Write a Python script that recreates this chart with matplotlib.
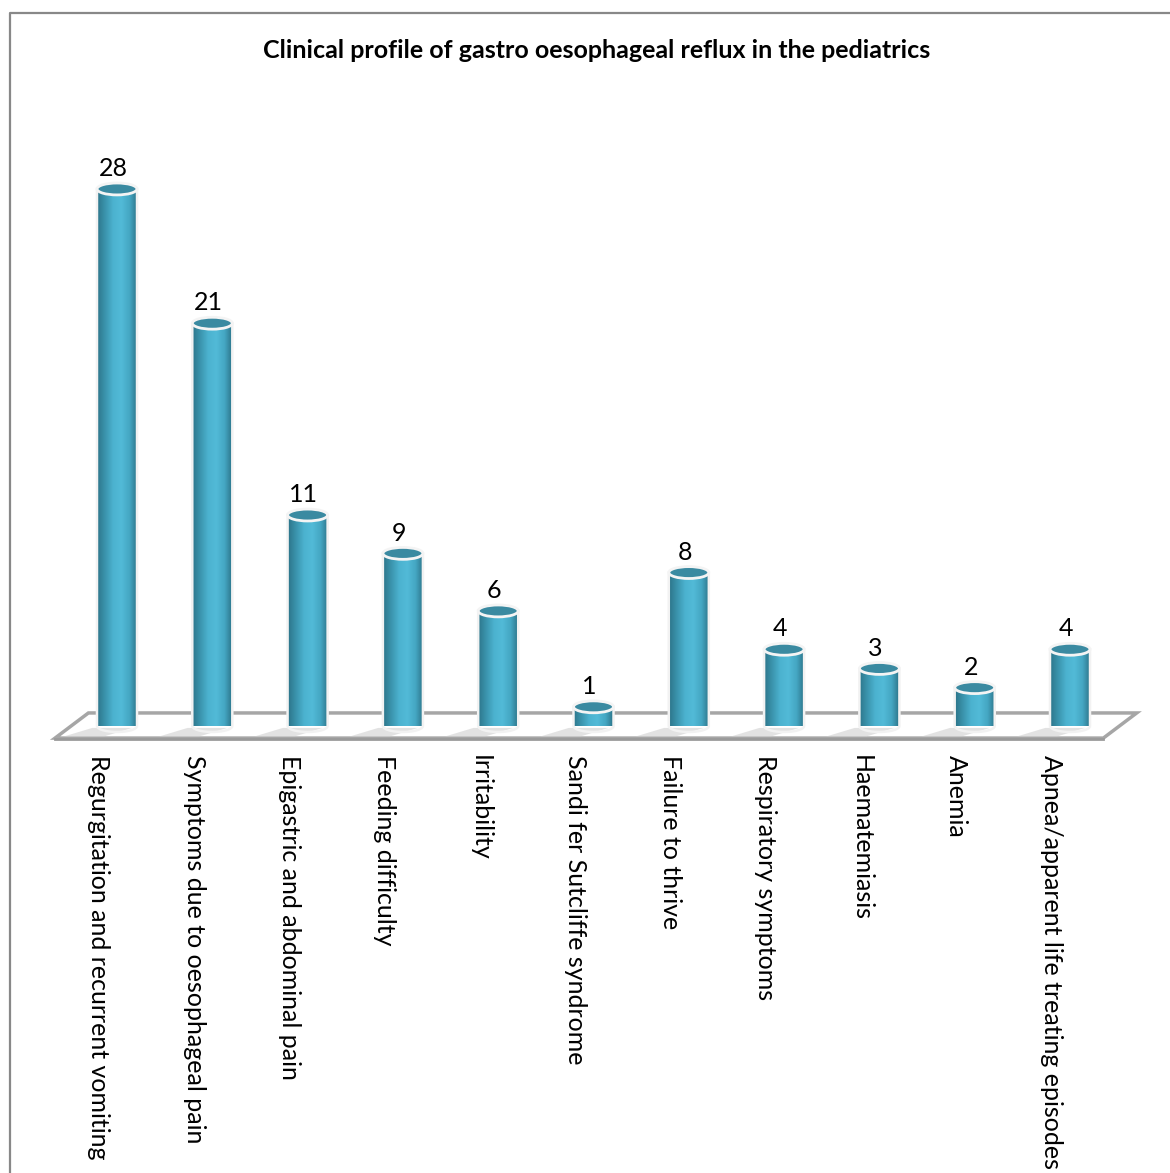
import matplotlib.pyplot as plt
import numpy as np
from matplotlib.colors import LinearSegmentedColormap
from matplotlib.lines import Line2D
from matplotlib.patches import Ellipse, PathPatch, Polygon
from matplotlib.path import Path

categories = [
    "Regurgitation and recurrent vomiting",
    "Symptoms due to oesophageal pain",
    "Epigastric and abdominal pain",
    "Feeding difficulty",
    "Irritability",
    "Sandi fer Sutcliffe syndrome",
    "Failure to thrive",
    "Respiratory symptoms",
    "Haematemiasis",
    "Anemia",
    "Apnea/apparent life treating episodes",
]
counts = [28, 21, 11, 9, 6, 1, 8, 4, 3, 2, 4]

title = "Clinical profile of gastro oesophageal reflux in the pediatrics"

plt.rcParams["font.family"] = ["Lato", "DejaVu Sans"]

W, H = 1170, 1173
fig = plt.figure(figsize=(W / 100, H / 100), dpi=100)
ax = fig.add_axes([69.35 / W, 447 / H, 1048.3 / W, 575.4 / H])
ax.set_xlim(-0.5, 10.5)
ax.set_ylim(0, 30)
ax.axis("off")

# frame
fig.add_artist(Line2D([10 / W, 10 / W, 1], [0, 1 - 13 / H, 1 - 13 / H],
                      transform=fig.transFigure, color="#888888", lw=1.6))

# floor
floor = [(-0.65, -0.63), (-0.30, 0.68), (10.70, 0.68), (10.35, -0.63)]
ax.add_patch(Polygon(floor, closed=True, facecolor="white", edgecolor="#a6a6a6",
                     lw=2.5, clip_on=False, zorder=1))
ax.plot([-0.65, 10.35], [-0.68, -0.68], color="#9a9a9a", lw=2, clip_on=False, zorder=1)

cmap = LinearSegmentedColormap.from_list(
    "cyl", ["#2c7489", "#3b94ad", "#4cb3d0", "#52bad7", "#44a6c2", "#2a6f84"])
grad = np.linspace(0, 1, 256).reshape(1, -1)

hw = 0.21   # half width of cylinder
b = 0.31    # vertical semi-axis of ellipses

for i, v in enumerate(counts):
    # soft shadow on the floor
    ax.add_patch(Polygon([(i - hw - 0.05, -0.1), (i - hw - 0.35, -0.55),
                          (i + hw - 0.35, -0.55), (i + hw - 0.05, -0.1)],
                         closed=True, facecolor="#d0d0d0", edgecolor="none",
                         alpha=0.6, clip_on=False, zorder=1.5))
    t = np.linspace(np.pi, 2 * np.pi, 40)
    pts = [(i + hw * np.cos(a), b * np.sin(a)) for a in t]
    pts += [(i + hw, v), (i - hw, v), pts[0]]
    path = Path(pts, [Path.MOVETO] + [Path.LINETO] * (len(pts) - 2) + [Path.CLOSEPOLY])
    body = PathPatch(path, facecolor="none", edgecolor="#f2f2f2", lw=1.8,
                     clip_on=False, zorder=3)
    im = ax.imshow(grad, cmap=cmap, aspect="auto",
                   extent=(i - hw, i + hw, -b, v), zorder=2)
    im.set_clip_path(PathPatch(path, transform=ax.transData))
    ax.add_patch(body)
    ax.add_patch(Ellipse((i, v), 2 * hw, 2 * b, facecolor="#3a8aa1",
                         edgecolor="#f4f4f4", lw=2, zorder=4))
    ax.text(i - 0.04, v + 0.67, str(v), ha="center", va="baseline", fontsize=18, zorder=5)
    ax.text(i - 0.19, -1.51, categories[i], ha="center", va="top", rotation=-90,
            fontsize=18, clip_on=False)

ax.set_xlim(-0.5, 10.5)
ax.set_ylim(0, 30)

fig.text(597 / W, 1 - 50 / H, title, ha="center", va="center",
         fontsize=18, fontweight="bold")

fig.savefig("out.png", dpi=100)
